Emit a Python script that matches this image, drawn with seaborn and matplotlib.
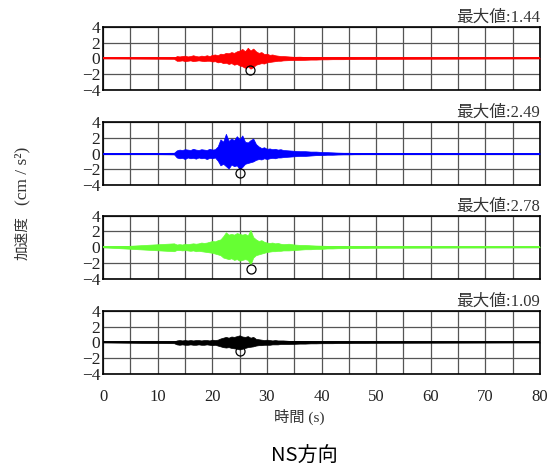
import numpy as np
import pandas as pd
import matplotlib
matplotlib.use("Agg")
import matplotlib.pyplot as plt
import seaborn as sns

# -------------------------
# Data
# envelope every 0.5 s from 13 s to 32.5 s, then every 1 s to 50 s
# -------------------------
times = list(np.arange(13.0, 33.0, 0.5)) + list(range(33, 51))
t_start, t_end = 0, 80

red_up = [0.05, 0.3, 0.25, 0.3, 0.35, 0.25, 0.3, 0.4, 0.3, 0.25, 0.35, 0.3, 0.4, 0.3, 0.45, 0.5, 0.4, 0.6, 0.55,
          0.7, 0.65, 0.8, 0.7, 0.9, 1.0, 1.2, 0.9, 1.35, 1.0, 1.25, 0.9, 0.7, 0.8, 0.55, 0.6, 0.45, 0.5, 0.4, 0.35,
          0.3,
          0.3, 0.25, 0.2, 0.22, 0.18, 0.15, 0.18, 0.12, 0.12, 0.1, 0.12, 0.1, 0.08, 0.08, 0.06, 0.06, 0.06, 0.06]
red_lo = [-0.05, -0.3, -0.3, -0.25, -0.35, -0.3, -0.25, -0.35, -0.3, -0.25, -0.3, -0.35, -0.3, -0.3, -0.4, -0.35,
          -0.5, -0.45, -0.6, -0.55, -0.7, -0.6, -0.8, -0.7, -0.9, -1.0, -1.2, -1.0, -1.3, -1.1, -0.8, -0.7, -0.6,
          -0.65, -0.5, -0.45, -0.4, -0.35, -0.3, -0.3,
          -0.25, -0.22, -0.2, -0.2, -0.18, -0.15, -0.15, -0.12, -0.12, -0.1, -0.1, -0.1, -0.08, -0.08, -0.06,
          -0.06, -0.06, -0.06]

blue_up = [0.1, 0.4, 0.5, 0.45, 0.55, 0.5, 0.45, 0.6, 0.5, 0.45, 0.55, 0.5, 0.45, 0.6, 0.5, 0.55, 0.9, 1.8, 1.5,
           2.5, 1.6, 1.9, 1.7, 2.2, 1.8, 2.3, 1.5, 1.4, 1.7, 1.9, 1.2, 0.9, 0.7, 0.8, 0.6, 0.65, 0.55, 0.6, 0.5,
           0.55,
           0.45, 0.4, 0.35, 0.3, 0.3, 0.25, 0.25, 0.2, 0.18, 0.15, 0.12, 0.1, 0.1, 0.08, 0.08, 0.08, 0.06, 0.06]
blue_lo = [-0.1, -0.5, -0.6, -0.55, -0.7, -0.5, -0.6, -0.55, -0.65, -0.5, -0.6, -0.55, -0.7, -0.55, -0.6, -0.5,
           -0.9, -1.5, -1.3, -1.6, -1.9, -1.4, -1.6, -1.5, -2.0, -1.7, -1.3, -1.2, -1.1, -1.0, -0.8, -0.7, -0.75,
           -0.6, -0.7, -0.6, -0.55, -0.6, -0.5, -0.5,
           -0.45, -0.4, -0.35, -0.3, -0.3, -0.25, -0.2, -0.2, -0.15, -0.15, -0.12, -0.1, -0.1, -0.08, -0.08,
           -0.06, -0.06, -0.06]

green_up = [0.5, 0.35, 0.4, 0.35, 0.45, 0.4, 0.45, 0.5, 0.45, 0.5, 0.6, 0.55, 0.6, 0.7, 0.8, 0.75, 0.9, 1.0, 1.4,
            1.9, 1.6, 1.7, 1.6, 1.8, 1.7, 1.6, 1.7, 1.5, 2.2, 1.3, 1.0, 0.8, 0.9, 0.7, 0.6, 0.55, 0.6, 0.5, 0.55,
            0.45,
            0.4, 0.45, 0.35, 0.3, 0.3, 0.25, 0.22, 0.2, 0.18, 0.15, 0.15, 0.12, 0.1, 0.1, 0.08, 0.08, 0.06, 0.06]
green_lo = [-0.5, -0.35, -0.35, -0.4, -0.35, -0.4, -0.45, -0.4, -0.5, -0.45, -0.5, -0.55, -0.6, -0.65, -0.7, -0.8,
            -0.9, -1.0, -1.3, -1.4, -1.5, -1.4, -1.6, -1.5, -1.7, -1.6, -1.5, -1.6, -2.2, -1.3, -1.0, -0.9, -0.8,
            -0.7, -0.6, -0.55, -0.5, -0.5, -0.45, -0.45,
            -0.4, -0.4, -0.35, -0.3, -0.25, -0.25, -0.2, -0.2, -0.15, -0.15, -0.12, -0.12, -0.1, -0.1, -0.08,
            -0.08, -0.06, -0.06]

black_up = [0.1, 0.25, 0.3, 0.25, 0.3, 0.25, 0.3, 0.25, 0.3, 0.3, 0.25, 0.3, 0.3, 0.25, 0.35, 0.3, 0.35, 0.5, 0.6,
            0.7, 0.6, 0.75, 0.7, 0.8, 0.9, 0.75, 0.7, 0.8, 0.6, 0.7, 0.45, 0.4, 0.35, 0.3, 0.35, 0.3, 0.25, 0.3,
            0.25, 0.25,
            0.25, 0.2, 0.2, 0.18, 0.15, 0.15, 0.12, 0.12, 0.1, 0.1, 0.1, 0.08, 0.08, 0.08, 0.06, 0.06, 0.06, 0.05]
black_lo = [-0.1, -0.25, -0.3, -0.25, -0.3, -0.3, -0.25, -0.3, -0.3, -0.25, -0.3, -0.3, -0.25, -0.3, -0.35, -0.3,
            -0.4, -0.5, -0.6, -0.65, -0.6, -0.7, -0.75, -0.8, -0.9, -0.8, -0.7, -0.6, -0.55, -0.5, -0.4, -0.35,
            -0.35, -0.3, -0.3, -0.3, -0.25, -0.25, -0.25, -0.2,
            -0.2, -0.2, -0.18, -0.15, -0.15, -0.12, -0.12, -0.1, -0.1, -0.1, -0.08, -0.08, -0.08, -0.06, -0.06,
            -0.06, -0.05, -0.05]

peak_times = [26.9, 25.1, 27.1, 25.1]
peak_values = [1.44, 2.49, 2.78, 1.09]
colors = ["#ff0000", "#0000ff", "#66ff33", "#000000"]
uppers = [red_up, blue_up, green_up, black_up]
lowers = [red_lo, blue_lo, green_lo, black_lo]

x_ticks = [0, 10, 20, 30, 40, 50, 60, 70, 80]
y_ticks = [-4, -2, 0, 2, 4]

sns.set_theme(style="white")
plt.rcParams["font.family"] = ["Liberation Serif", "Noto Sans CJK JP"]
FAM = ["Liberation Serif", "Noto Sans CJK JP"]
TXT = "#222222"

fig = plt.figure(figsize=(5.52, 4.71), dpi=100)
fig.patch.set_facecolor("white")

bottoms = [0.809, 0.607, 0.408, 0.206]
for i in range(4):
    ax = fig.add_axes([0.1866, bottoms[i], 0.7917, 0.134])

    df = pd.DataFrame({"t": [t_start] + times + [t_end],
                       "up": [0] + uppers[i] + [0],
                       "lo": [0] + lowers[i] + [0]})

    ax.fill_between(df["t"], df["lo"], df["up"], color=colors[i], linewidth=0.5, zorder=3)
    sns.lineplot(x=[t_start, t_end], y=[0, 0], color=colors[i], lw=1.4, ax=ax, zorder=3)

    ax.plot(peak_times[i], -peak_values[i], marker="o", ms=6.5, mfc="none", mec="black", mew=0.9, zorder=4)

    ax.set_xlim(0, 80)
    ax.set_ylim(-4, 4)
    ax.set_xticks(x_ticks)
    ax.set_xticks([5, 15, 25, 35, 45, 55, 65, 75], minor=True)
    ax.set_yticks(y_ticks)
    ax.grid(True, which="both", color="#555555", lw=0.9, zorder=1)
    ax.tick_params(which="both", length=0, pad=2)
    for sp in ax.spines.values():
        sp.set_color("black")
        sp.set_linewidth(1.2)
    ax.set_xlabel("")
    ax.set_ylabel("")
    for lab in ax.get_yticklabels():
        lab.set_fontsize(12.5)
        lab.set_color(TXT)
        lab.set_family(FAM)
    if i < 3:
        ax.set_xticklabels([])
    else:
        ax.tick_params(axis="x", pad=11)
        for lab in ax.get_xticklabels():
            lab.set_fontsize(12)
            lab.set_color(TXT)
            lab.set_family(FAM)

    ax.text(1.0, 1.02, f"最大値:{peak_values[i]:.2f}", transform=ax.transAxes, ha="right", va="bottom",
            fontsize=12, color="#333333", family=FAM)

fig.text(0.543, 0.115, "時間 (s)", ha="center", va="center", fontsize=11, color="#333333", family=FAM)
# y label: CJK part and unit part (unit is set larger, as in the reference)
fig.text(0.041, 0.494, "加速度", ha="center", va="center", rotation=90, fontsize=10.5,
         color="#333333", family=FAM)
fig.text(0.041, 0.626, "(cm / s²)", ha="center", va="center", rotation=90, fontsize=12.5,
         color="#333333", family=FAM)
fig.text(0.552, 0.032, "NS方向", ha="center", va="center", fontsize=14.5, color="black",
         family=["Noto Sans CJK JP", "DejaVu Sans"])

plt.savefig("out.png", dpi=100)
plt.close()
